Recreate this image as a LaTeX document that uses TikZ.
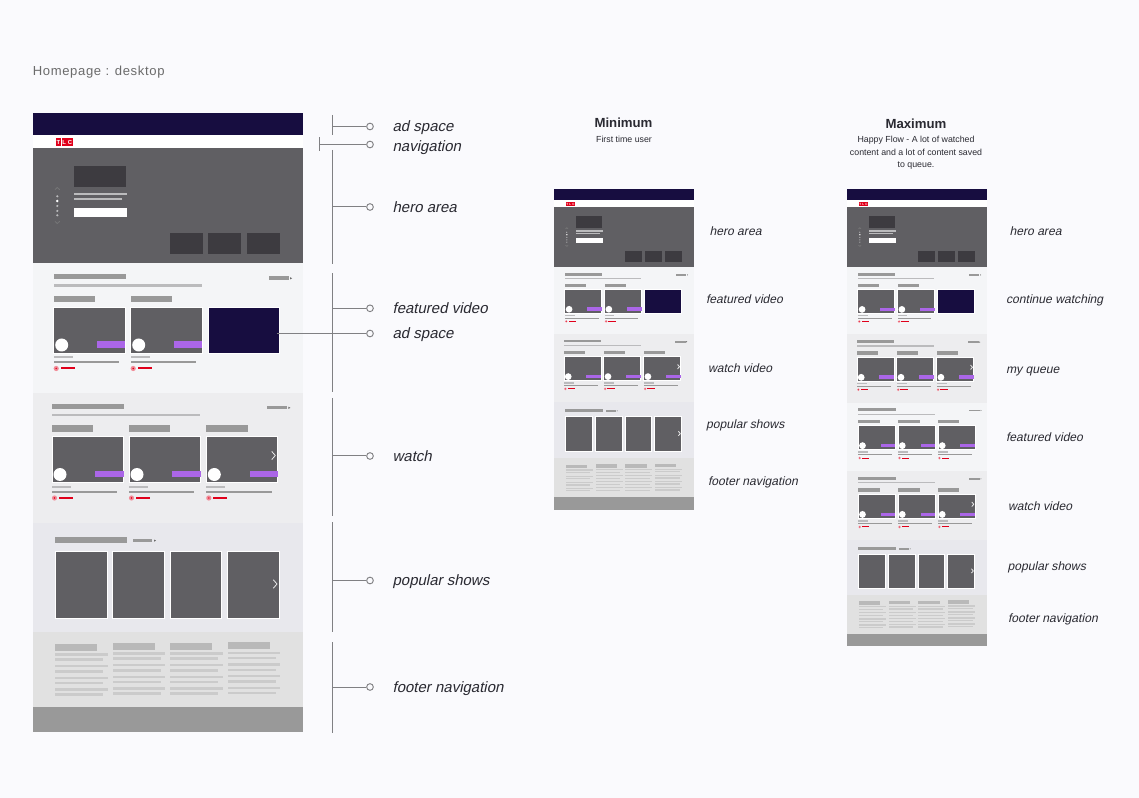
\documentclass[tikz,border=0pt]{standalone}
\usepackage{fontspec}
\setmainfont{Liberation Sans}
\newfontfamily\lblfont[FakeSlant=0.21]{Liberation Sans}
\definecolor{pagebg}{HTML}{FAFAFD}
\definecolor{navy}{HTML}{170D40}
\definecolor{herogray}{HTML}{605F63}
\definecolor{darkbox}{HTML}{3D3B40}
\definecolor{barA}{HTML}{999999}
\definecolor{barB}{HTML}{BBBBBD}
\definecolor{ftA}{HTML}{B9B9B9}
\definecolor{ftB}{HTML}{CBCBCB}
\definecolor{secA}{HTML}{F4F5F7}
\definecolor{secB}{HTML}{EDEDEF}
\definecolor{secC}{HTML}{E8E8ED}
\definecolor{secD}{HTML}{E1E1E1}
\definecolor{purp}{HTML}{AB66E8}
\definecolor{redb}{HTML}{E0001B}
\definecolor{leader}{HTML}{808083}
\definecolor{labelc}{HTML}{2A2A32}
\tikzset{
  leaderline/.style={draw=leader,line width=0.75pt},
  ringdot/.style={circle,draw=leader,fill=pagebg,line width=0.7pt,inner sep=0pt,minimum size=5pt},
  biglabel/.style={anchor=base west,xshift=-0.5pt,yshift=-3.4pt,inner sep=0pt,text=labelc,font=\fontsize{11.25}{13}\selectfont\lblfont},
  minilabel/.style={anchor=base west,xshift=-0.5pt,yshift=-2.85pt,inner sep=0pt,text=labelc,font=\fontsize{9.1}{11}\selectfont\lblfont},
  headtitle/.style={inner sep=0pt,text=labelc,font=\fontsize{9.9}{12}\bfseries\selectfont},
  headsub/.style={inner sep=0pt,text=labelc,align=center,font=\fontsize{6.6}{9.3}\selectfont},
  cardbox/.style={fill=herogray,draw=white,line width=0.7pt},
  tabbar/.style={fill=barA},
  chev/.style={draw=#1,line width=0.6pt,line cap=round,line join=round},
  tlcletter/.style={inner sep=0pt,text=white,transform shape,font=\fontsize{4.4}{5}\bfseries\selectfont},
}
\newcommand\Rc[5]{\fill[#1] (#2,#3) rectangle (#4,#5);}
% header block: 150.5 tall
\newcommand\headblock{%
  \Rc{white}{0}{0}{270}{36}
  \Rc{navy}{0}{0}{270}{22}
  \Rc{redb}{23.2}{25}{28.6}{33}\Rc{redb}{29}{25}{34.4}{33}\Rc{redb}{34.8}{25}{40.2}{33}
  \node[tlcletter] (tlcT) at (25.9,29) {T};
  \node[tlcletter] (tlcL) at (31.7,29) {L};
  \node[tlcletter] (tlcC) at (37.5,29) {C};
  \Rc{herogray}{0}{35.3}{270}{150.5}
  \Rc{darkbox}{41.8}{52.7}{93.8}{74.3}
  \Rc{barB}{41.8}{79.7}{94.2}{82.3}
  \Rc{barB}{41.8}{84.7}{89.2}{87}
  \Rc{white}{41.8}{94.7}{94.2}{104.3}
  \draw[chev=gray!70!herogray] (22.6,76.5) -- (24.8,74.5) -- (27,76.5);
  \draw[chev=gray!70!herogray] (22.6,108.5) -- (24.8,110.5) -- (27,108.5);
  \foreach \yy in {83.3,93,98,102.3} {\fill[barB] (24.8,\yy) circle (1.2);}
  \fill[white] (24.8,88) circle (1.4);
  \Rc{darkbox}{137.5}{120}{170.8}{141}
  \Rc{darkbox}{175.8}{120}{208.8}{141}
  \Rc{darkbox}{214.5}{120}{247.5}{141}
}
\newcommand\onecard[2]{% x offset, chevron flag
  \begin{scope}[shift={(#1,0)}]
    \path[tabbar] (0,32.5) rectangle (41.3,39);
    \path[cardbox] (0,43.5) rectangle (71.6,89.5);
    \Rc{purp}{43.3}{78}{71.6}{84.5}
    \fill[white] (8,81.5) circle (6.5);
    \Rc{barB}{0}{92.5}{18.8}{95}
    \Rc{barA}{0}{97.5}{65.3}{100}
    \fill[redb!45!white] (2.5,105) circle (2.6);
    \fill[redb] (2.5,105) circle (0.8);
    \Rc{redb}{7}{104}{21}{106}
    \ifnum#2=1 \draw[chev=white!85!gray] (65.5,58.5) -- (69,62.5) -- (65.5,66.5); \fi
  \end{scope}%
}
% video section: bg, dx, third item (0 ad, 1 card, 2 card with chevron)
\newcommand\videosec[3]{%
  \Rc{#1}{0}{0}{270}{129.6}
  \begin{scope}[shift={(#2,0)}]
    \path[tabbar] (21.2,11) rectangle (93.2,16);
    \Rc{barB}{21.2}{20.8}{169.2}{23.2}
    \Rc{barA}{236.2}{13}{256.2}{16.5}
    \fill[barA!70!black] (257.6,13.7) -- (259.6,14.8) -- (257.6,15.9) -- cycle;
    \begin{scope}[shift={(21.2,0)}]
      \onecard{0}{0}
      \onecard{77}{0}
      \ifcase#3
        \path[fill=navy,draw=white,line width=0.7pt] (154.3,43.5) rectangle (225.9,89.5);
      \or
        \onecard{154.3}{0}
      \or
        \onecard{154.3}{1}
      \fi
    \end{scope}
  \end{scope}%
}
\newcommand\popsec{%
  \Rc{secC}{0}{0}{270}{108.6}
  \path[tabbar] (22.2,14) rectangle (94.5,19.5);
  \Rc{barA}{100.2}{16}{119.5}{19}
  \fill[barA!70!black] (121.6,16.6) -- (123.6,17.6) -- (121.6,18.6) -- cycle;
  \path[cardbox] (22.5,28) rectangle (74.8,95);
  \path[cardbox] (79.8,28) rectangle (132.2,95);
  \path[cardbox] (137.5,28) rectangle (189.2,95);
  \path[cardbox] (194.8,28) rectangle (246.8,95);
  \draw[chev=white!85!gray] (241,57) -- (244.5,61) -- (241,65);
}
\newcommand\ftcol[3]{% x, offset header, offset lines
  \Rc{ftA}{#1}{12.5-#2}{#1+41.5}{19-#2}
  \foreach \yy/\ww in {22.8/52.3,27.8/47.5,34.5/52.3,39.8/47.5,46.2/52.3,51.5/47.5,57.8/52.3,62.8/47.5}
    {\fill[ftB] (#1,\yy-1.2-#3) rectangle (#1+\ww,\yy+1.2-#3);}
}
\newcommand\footsec{%
  \Rc{secD}{0}{0}{270}{75.6}
  \ftcol{22.8}{0}{0}
  \ftcol{80.5}{1}{0.8}
  \ftcol{137.8}{1}{0.8}
  \ftcol{195.5}{2}{1.6}
}
\newcommand\barsec{\Rc{barA}{0}{0}{270}{24.6}}
\newcommand\place[4]{% x, y, yscale, content
  \begin{scope}[shift={(#1,#2)},xscale=\pagesc,yscale=#3]#4\end{scope}%
}
\begin{document}
\begin{tikzpicture}[x=0.75pt,y=-0.75pt]
\useasboundingbox (0,0) rectangle (1139,798);
\fill[pagebg] (0,0) rectangle (1139,798);

\node[anchor=west,inner sep=0pt,text=black!58,font=\fontsize{9.8}{12}\selectfont\addfontfeature{LetterSpace=5}] (pagetitle) at (32.5,72.5) {Homepage : desktop};

% ---------- large page
\def\pagesc{1}
\place{32.5}{113}{1}{\headblock}
\place{32.5}{263.5}{1}{\videosec{secA}{0}{0}}
\place{32.5}{393}{1}{\videosec{secB}{-1.7}{2}}
\place{32.5}{523}{1}{\popsec}
\place{32.5}{631.5}{1}{\footsec}
\place{32.5}{707}{1}{\barsec}

% ---------- leaders
\foreach \nm/\yy in {a1/115,a2/135,b1/150,b2/264,c1/273.5,c2/392,d1/398,d2/516,e1/522,e2/632,f1/642,f2/733}
  {\coordinate (sp\nm) at (332.5,\yy);}
\draw[leaderline] (spa1) -- (spa2);
\draw[leaderline] (spb1) -- (spb2);
\draw[leaderline] (spc1) -- (spc2);
\draw[leaderline] (spd1) -- (spd2);
\draw[leaderline] (spe1) -- (spe2);
\draw[leaderline] (spf1) -- (spf2);
\coordinate (navt) at (319.5,137.5);
\coordinate (navb) at (319.5,151.5);
\draw[leaderline] (navt) -- (navb);

\node[ringdot] (adA) at (370,126.5) {};
\node[ringdot] (navD) at (370,144.5) {};
\node[ringdot] (heroD) at (370,207) {};
\node[ringdot] (featD) at (370,308.3) {};
\node[ringdot] (adB) at (370,333.5) {};
\node[ringdot] (watchD) at (370,456) {};
\node[ringdot] (popD) at (370,580.5) {};
\node[ringdot] (footD) at (370,687) {};
\coordinate (adAs) at (332.5,126.5);
\coordinate (navs) at (319.5,144.5);
\coordinate (heros) at (332.5,207);
\coordinate (feats) at (332.5,308.3);
\coordinate (adBs) at (277,333.5);
\coordinate (watchs) at (332.5,456);
\coordinate (pops) at (332.5,580.5);
\coordinate (foots) at (332.5,687);
\draw[leaderline] (adAs) -- (adA);
\draw[leaderline] (navs) -- (navD);
\draw[leaderline] (heros) -- (heroD);
\draw[leaderline] (feats) -- (featD);
\draw[leaderline] (adBs) -- (adB);
\draw[leaderline] (watchs) -- (watchD);
\draw[leaderline] (pops) -- (popD);
\draw[leaderline] (foots) -- (footD);

\node[biglabel] (lA) at (393,127) {ad space};
\node[biglabel] (lB) at (393,147) {navigation};
\node[biglabel] (lC) at (393,208) {hero area};
\node[biglabel] (lD) at (393,309) {featured video};
\node[biglabel] (lE) at (393,333.5) {ad space};
\node[biglabel] (lF) at (393,456.5) {watch};
\node[biglabel] (lG) at (393,581) {popular shows};
\node[biglabel] (lH) at (393,688) {footer navigation};

% ---------- minimum
\def\pagesc{.5167}
\node[headtitle] (minT) at (623.5,123) {Minimum};
\node[headsub] (minS) at (624,139.5) {First time user};
\place{554}{189}{.5198}{\headblock}
\place{554}{267.3}{.515}{\videosec{secA}{0}{0}}
\place{554}{334}{.523}{\videosec{secB}{-1.7}{2}}
\place{554}{401.7}{.522}{\popsec}
\place{554}{458.3}{.517}{\footsec}
\place{554}{497.3}{.518}{\barsec}

\node[minilabel] (m1) at (710,232) {hero area};
\node[minilabel] (m2) at (706.5,300) {featured video};
\node[minilabel] (m3) at (708.5,369) {watch video};
\node[minilabel] (m4) at (706.5,425) {popular shows};
\node[minilabel] (m5) at (708.5,481.5) {footer navigation};

% ---------- maximum
\node[headtitle] (maxT) at (916,124) {Maximum};
\node[headsub] (maxS) at (916,153) {Happy Flow - A lot of watched\\content and a lot of content saved\\to queue.};
\place{847}{189}{.5198}{\headblock}
\place{847}{267.3}{.517}{\videosec{secA}{0}{0}}
\place{847}{334.3}{.528}{\videosec{secB}{-1.7}{2}}
\place{847}{402.7}{.527}{\videosec{secA}{0.8}{1}}
\place{847}{471}{.533}{\videosec{secB}{0.8}{2}}
\place{847}{540}{.507}{\popsec}
\place{847}{595}{.517}{\footsec}
\place{847}{634}{.49}{\barsec}

\node[minilabel] (x1) at (1010,232) {hero area};
\node[minilabel] (x2) at (1006.5,300) {continue watching};
\node[minilabel] (x3) at (1006.5,369.5) {my queue};
\node[minilabel] (x4) at (1006.5,438) {featured video};
\node[minilabel] (x5) at (1008.5,507) {watch video};
\node[minilabel] (x6) at (1008,566.5) {popular shows};
\node[minilabel] (x7) at (1008.5,619) {footer navigation};
\end{tikzpicture}
\end{document}
